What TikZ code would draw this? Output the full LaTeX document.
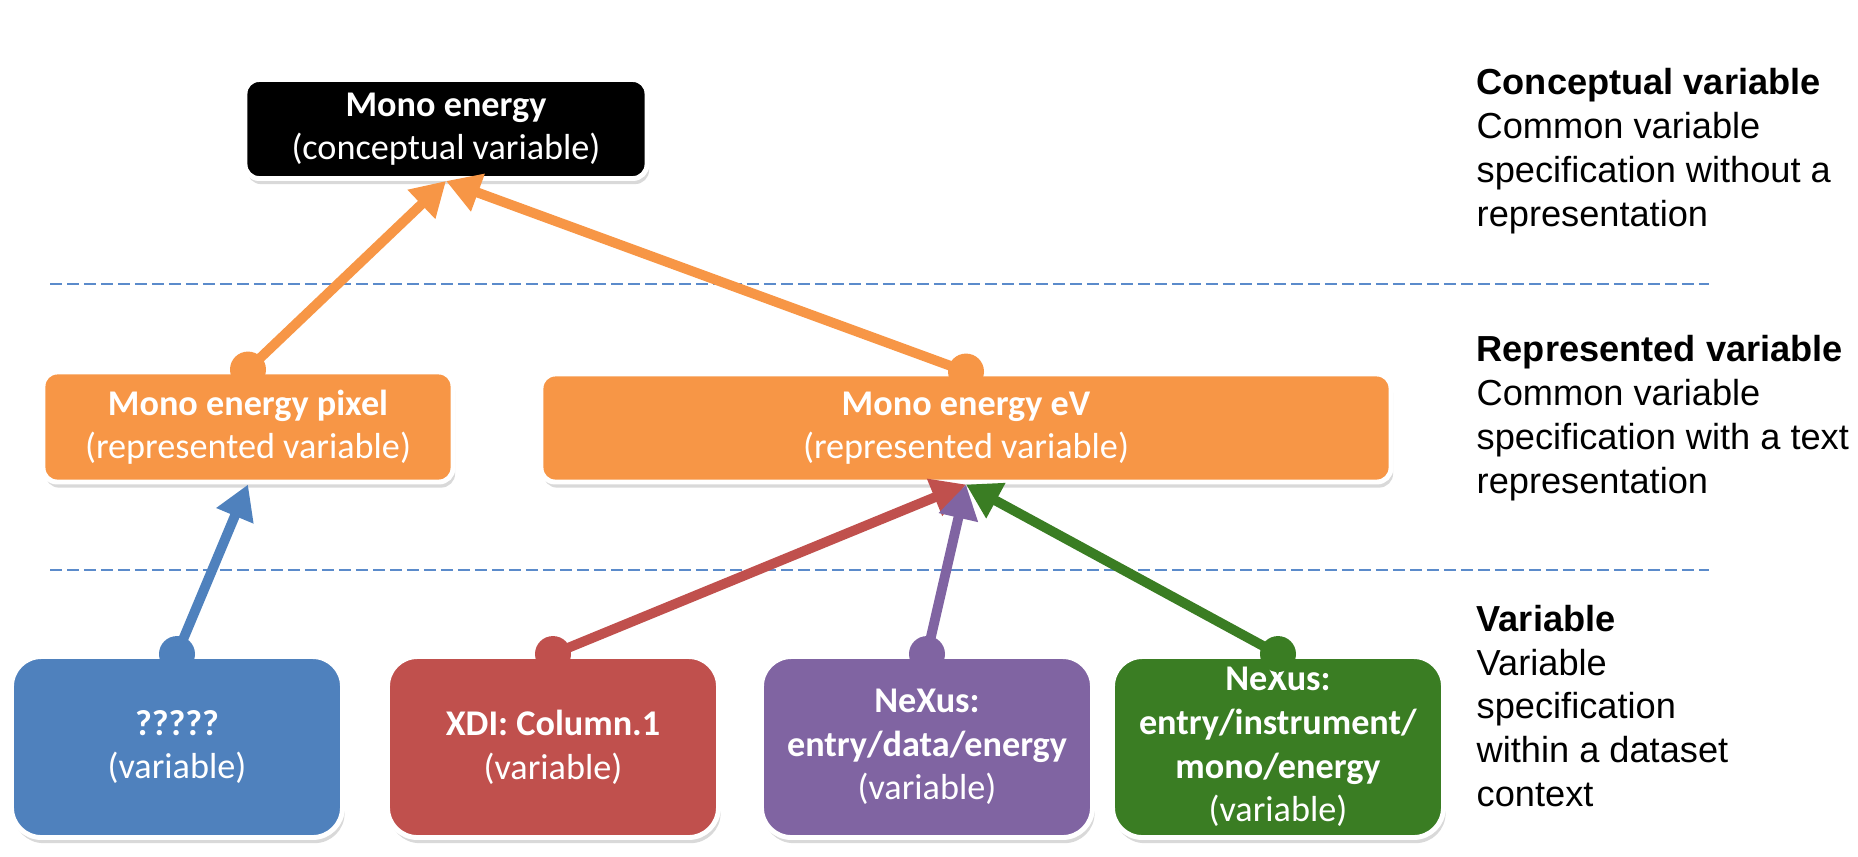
\documentclass[tikz,border=0pt]{standalone}
\usepackage{fontspec}
\setmainfont{Carlito}
\newfontfamily\arialfont{Liberation Sans}
\usetikzlibrary{arrows.meta,shadows}
\usepackage{xcolor}
\definecolor{varorange}{HTML}{F79646}
\definecolor{varblue}{HTML}{4F81BD}
\definecolor{varred}{HTML}{C0504D}
\definecolor{varpurple}{HTML}{8064A2}
\definecolor{vargreen}{HTML}{3A7D23}
\definecolor{sepblue}{HTML}{5B8BCB}

\begin{document}
\begin{tikzpicture}[x=1cm, y=1cm,
    >={Triangle[length=0.34cm, width=0.38cm]},
    box/.style={draw=white, line width=1.4pt, fill=#1, rounded corners=4pt,
                text=white, align=center, inner sep=0pt,
                font=\fontsize{10.3}{12.4}\selectfont,
                drop shadow={shadow xshift=0.6pt, shadow yshift=-1.6pt,
                             opacity=0.3}},
    varbox/.style={box=#1, rounded corners=8.5pt, minimum width=3.31cm,
                   minimum height=1.81cm},
    arr/.style={->, line width=2.8pt, draw=#1},
    note/.style={anchor=west, align=left, inner sep=0pt,
                 font=\arialfont\fontsize{10.3}{12.5}\selectfont},
    sep/.style={sepblue, line width=0.6pt, dash pattern=on 0.12cm off 0.05cm}]

  \useasboundingbox (0,0) rectangle (18.58,-8.56);

  %% Level separators
  \draw[sep] (0.50,-2.84) -- (17.09,-2.84);
  \draw[sep] (0.50,-5.70) -- (17.09,-5.70);

  %% ── Conceptual variable ──────────────────────────────────
  \node[box=black, minimum width=4.02cm, minimum height=0.99cm] (mono)
    at (4.46,-1.29) {\textbf{Mono energy}\\(conceptual variable)};

  %% ── Represented variables ────────────────────────────────
  \node[box=varorange, minimum width=4.10cm, minimum height=1.10cm] (pixel)
    at (2.48,-4.27) {\textbf{Mono energy pixel}\\(represented variable)};
  \node[box=varorange, minimum width=8.50cm, minimum height=1.08cm] (ev)
    at (9.66,-4.28) {\textbf{Mono energy eV}\\(represented variable)};

  %% ── Variables ────────────────────────────────────────────
  \node[varbox=varblue]   (unknown) at (1.77,-7.47)
    {\textbf{?????}\\(variable)};
  \node[varbox=varred]    (xdi)     at (5.53,-7.47)
    {\textbf{XDI: Column.1}\\(variable)};
  \node[varbox=varpurple] (nxdata)  at (9.27,-7.47)
    {\textbf{NeXus:}\\\textbf{entry/data/energy}\\(variable)};
  \node[varbox=vargreen]  (nxmono)  at (12.78,-7.47)
    {\textbf{NeXus:}\\\textbf{entry/instrument/}\\\textbf{mono/energy}\\(variable)};

  %% Links, each starting at a dot on the upper edge
  \draw[arr=varorange] (pixel.north) -- (mono.south);
  \draw[arr=varorange] (ev.north) -- (mono.south);
  \draw[arr=varblue]   (unknown.north) -- (pixel.south);
  \draw[arr=varred]    (xdi.north) -- (ev.south);
  \draw[arr=varpurple] (nxdata.north) -- (ev.south);
  \draw[arr=vargreen]  (nxmono.north) -- (ev.south);
  \foreach \n/\c in {pixel/varorange, ev/varorange, unknown/varblue,
                     xdi/varred, nxdata/varpurple, nxmono/vargreen}{
    \fill[\c] (\n.north) circle (0.18);
  }

  %% ── Level descriptions ───────────────────────────────────
  \node[note] (lvlconcept) at (14.76,-1.51)
    {\textbf{Conceptual variable}\\Common variable\\specification without a\\representation};
  \node[note] (lvlrepr) at (14.76,-4.18)
    {\textbf{Represented variable}\\Common variable\\specification with a text\\representation};
  \node[note] (lvlvar) at (14.76,-7.06)
    {\textbf{Variable}\\Variable\\specification\\within a dataset\\context};

\end{tikzpicture}
\end{document}
